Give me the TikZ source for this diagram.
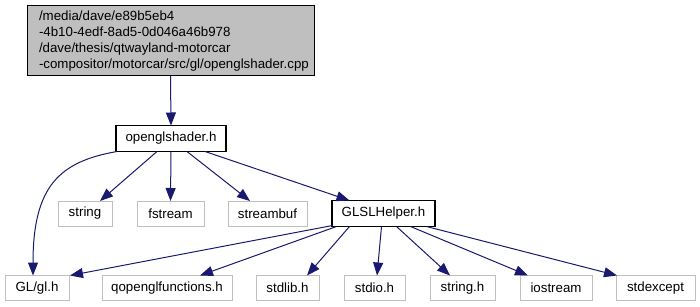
\documentclass[tikz,border=0pt]{standalone}
\usepackage{fontspec}
\setmainfont{Liberation Sans}
\usetikzlibrary{arrows.meta,calc}
\definecolor{edgeblue}{HTML}{191970}
\definecolor{leafgray}{HTML}{BFBFBF}
\definecolor{rootfill}{HTML}{BFBFBF}
\begin{document}
\begin{tikzpicture}[x=1pt,y=-1pt,
  every node/.style={font=\fontsize{13.3}{16}\selectfont, inner sep=0pt, outer sep=0pt},
  rootbox/.style={draw=black, fill=rootfill, line width=1pt, minimum width=287pt, minimum height=70pt},
  incbox/.style={draw=black, fill=white, line width=1.2pt, minimum height=26pt},
  leafbox/.style={draw=leafgray, fill=white, line width=1pt, minimum height=25pt},
  dep/.style={draw=edgeblue, line width=1pt, -{Triangle[length=13pt,width=10pt]}}]
\useasboundingbox (0,0) rectangle (700,307);
\fill[white] (0,0) rectangle (700,307);

% file whose dependencies are shown
\node[rootbox] (root) at (170.5,41) {};
\node[anchor=west, align=left, text width=280pt] at (39,41.5)
  {/media/dave/e89b5eb4\\-4b10-4edf-8ad5-0d046a46b978\\/dave/thesis/qtwayland-motorcar\\-compositor/motorcar/src/gl/openglshader.cpp};

% headers
\node[incbox, minimum width=110pt] (osh) at (171,138.5) {openglshader.h};
\node[incbox, minimum width=103pt] (gls) at (383.5,213.5) {GLSLHelper.h};

\node[leafbox, minimum width=54pt] (string) at (85,213.5) {string};
\node[leafbox, minimum width=67pt] (fstream) at (170.5,213.5) {fstream};
\node[leafbox, minimum width=79pt] (streambuf) at (267.5,213.5) {streambuf};

\node[leafbox, minimum width=64pt] (gl) at (37,288) {GL/gl.h};
\node[leafbox, minimum width=130pt] (qgl) at (167,288) {qopenglfunctions.h};
\node[leafbox, minimum width=63pt] (stdlib) at (287.5,288) {stdlib.h};
\node[leafbox, minimum width=61pt] (stdio) at (374.5,288) {stdio.h};
\node[leafbox, minimum width=65pt] (stringh) at (462.5,288) {string.h};
\node[leafbox, minimum width=72pt] (iostream) at (556,288) {iostream};
\node[leafbox, minimum width=79pt] (stdexcept) at (655.5,288) {stdexcept};

% include edges
\draw[dep] (root.south) -- (osh.north);
\draw[dep] ($(osh.south)+(-54,0)$) .. controls +(-57,10) and +(0,-90) .. ($(gl.north)+(-4,0)$);
\draw[dep] ($(osh.south)+(-14,0)$) -- ($(string.north)+(15,0)$);
\draw[dep] (osh.south) -- (fstream.north);
\draw[dep] ($(osh.south)+(16,0)$) -- ($(streambuf.north)+(-17.5,0)$);
\draw[dep] ($(osh.south)+(34,0)$) -- ($(gls.north)+(-34,0)$);

\draw[dep] ($(gls.south)+(-51,-1)$) -- ($(gl.north east)+(1,0)$);
\draw[dep] ($(gls.south)+(-47,0)$) -- ($(qgl.north)+(33,0)$);
\draw[dep] ($(gls.south)+(-34,0)$) -- ($(stdlib.north)+(19.5,0)$);
\draw[dep] ($(gls.south)+(-2,0)$) -- ($(stdio.north)+(2.5,0)$);
\draw[dep] ($(gls.south)+(13,0)$) -- ($(stringh.north)+(-12.5,0)$);
\draw[dep] ($(gls.south)+(27,0)$) -- ($(iostream.north)+(-28,0)$);
\draw[dep] ($(gls.south)+(43,0)$) -- ($(stdexcept.north)+(-38.5,0)$);
\end{tikzpicture}
\end{document}
